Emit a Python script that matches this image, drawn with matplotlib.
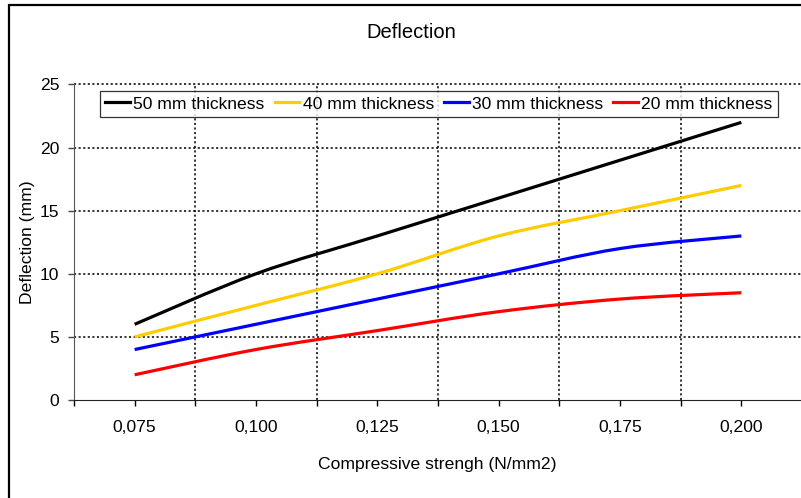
import matplotlib
matplotlib.use("Agg")
import matplotlib.pyplot as plt
import numpy as np
from matplotlib.path import Path
from matplotlib.patches import PathPatch, Rectangle
from matplotlib.lines import Line2D

plt.rcParams['font.family'] = ['Liberation Sans', 'DejaVu Sans']

# data
strength = [0.075, 0.100, 0.125, 0.150, 0.175, 0.200]
tick_labels = ["0,075", "0,100", "0,125", "0,150", "0,175", "0,200"]
t50 = [6, 10, 13, 16, 19, 22]
t40 = [5, 7.5, 10, 13, 15, 17]
t30 = [4, 6, 8, 10, 12, 13]
t20 = [2, 4, 5.5, 7, 8, 8.5]
names = ["50 mm thickness", "40 mm thickness", "30 mm thickness", "20 mm thickness"]
colors = ["#000000", "#FFCC00", "#0000FF", "#FF0000"]


def smooth_path(xs, ys):
    # excel-like smoothed line (catmull-rom as cubic bezier)
    pts = np.column_stack([xs, ys]).astype(float)
    n = len(pts)
    verts = [pts[0]]
    codes = [Path.MOVETO]
    for i in range(n - 1):
        p0 = pts[max(i - 1, 0)]
        p1 = pts[i]
        p2 = pts[i + 1]
        p3 = pts[min(i + 2, n - 1)]
        verts += [p1 + (p2 - p0) / 6, p2 - (p3 - p1) / 6, p2]
        codes += [Path.CURVE4] * 3
    return Path(verts, codes)


W, H = 801, 498
fig = plt.figure(figsize=(W / 100, H / 100), dpi=100)
ax = fig.add_axes([74 / W, 98 / H, 728 / W, 315.5 / H])

ax.set_xlim(0.0625, 0.2125)
ax.set_ylim(0, 25)

# gridlines
dots = dict(color="black", lw=1.1, linestyle=(0, (1.4, 1.6)), clip_on=False, zorder=1)
for y in range(5, 26, 5):
    ax.axhline(y, **dots)
for x in [0.0875, 0.1125, 0.1375, 0.1625, 0.1875]:
    ax.axvline(x, **dots)

series = [t50, t40, t30, t20]
handles = []
for vals, c, name in zip(series, colors, names):
    ax.add_patch(PathPatch(smooth_path(strength, vals), fill=False, ec=c, lw=2.3,
                           capstyle="butt", zorder=3))
    handles.append(Line2D([], [], color=c, lw=2.3, label=name))

ax.set_xticks(strength)
ax.set_xticklabels(tick_labels)
ax.set_xticks([0.0625, 0.0875, 0.1125, 0.1375, 0.1625, 0.1875], minor=True)
ax.set_yticks(range(0, 26, 5))
ax.tick_params(axis="both", which="both", direction="out", length=4.2, width=1,
               labelsize=12.6)
ax.tick_params(axis="x", which="both", pad=10)
ax.tick_params(axis="y", pad=6.5, colors="#444444", labelcolor="black")

for s in ["top", "right"]:
    ax.spines[s].set_visible(False)
ax.spines["left"].set_color("#555555")
ax.spines["bottom"].set_color("#222222")

ax.set_xlabel("Compressive strengh (N/mm2)", fontsize=12.6)
ax.xaxis.set_label_coords((437.5 - 74) / 728, -0.181)
ax.set_ylabel("Deflection (mm)", fontsize=12.6)
ax.yaxis.set_label_coords((35 - 74) / 728, 0.5)

fig.text(411 / W, 1 - 32 / H, "Deflection", ha="center", va="center", fontsize=14.5)

leg = fig.legend(handles=handles, loc="upper left", bbox_to_anchor=(100 / W, 1 - 91 / H),
                 bbox_transform=fig.transFigure, ncol=4, fontsize=12.6, frameon=True,
                 fancybox=False, borderpad=0.3, handlelength=1.4, handletextpad=0.2,
                 columnspacing=0.58, borderaxespad=0)
leg.get_frame().set_edgecolor("black")
leg.get_frame().set_linewidth(0.9)

# chart area border (cropped on right and bottom)
fig.patches.append(Rectangle((9 / W, -0.1), 1.2, 1.1 - 5 / H, transform=fig.transFigure,
                             fill=False, ec="black", lw=1.6))

fig.savefig("out.png", dpi=100)
